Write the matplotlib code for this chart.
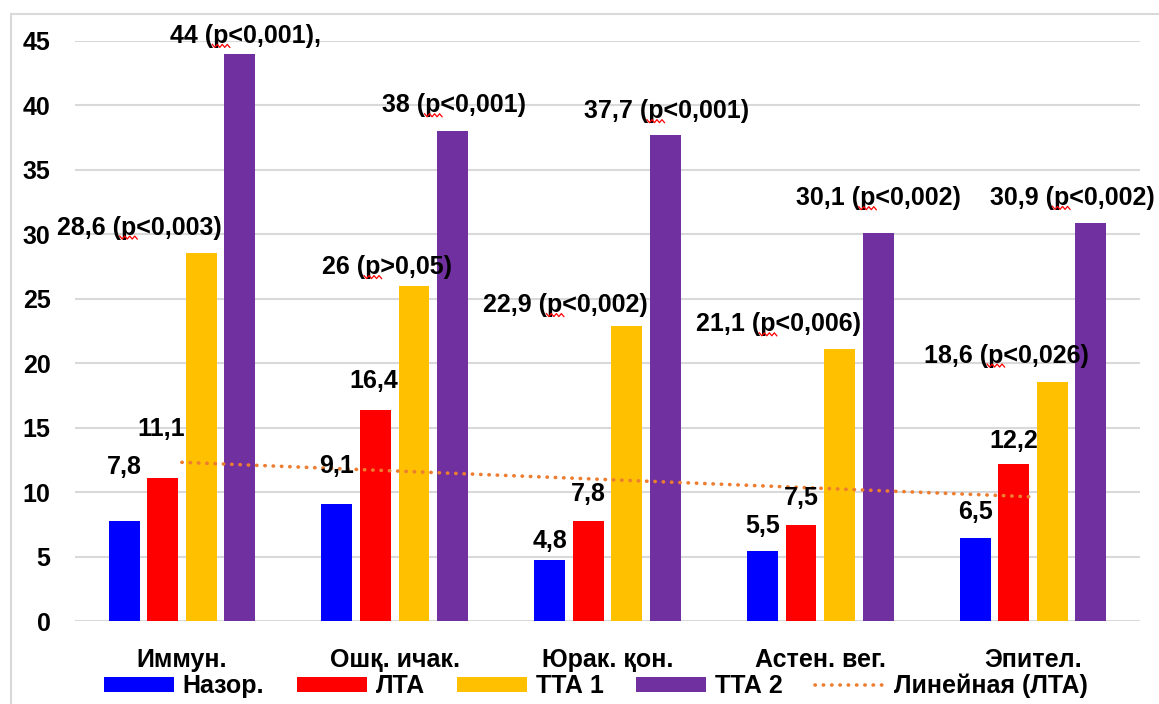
import numpy as np
import matplotlib
matplotlib.use("Agg")
import matplotlib.pyplot as plt
from matplotlib.patches import Rectangle
from matplotlib.lines import Line2D
from matplotlib.transforms import IdentityTransform

plt.rcParams['font.family'] = ['Liberation Sans', 'DejaVu Sans']
plt.rcParams['font.weight'] = 'bold'

# data
categories = ['Иммун.', 'Ошқ. ичак.', 'Юрак. қон.', 'Астен. вег.', 'Эпител.']
series = ['Назор.', 'ЛТА', 'ТТА 1', 'ТТА 2']
nazor = [7.8, 9.1, 4.8, 5.5, 6.5]
lta = [11.1, 16.4, 7.8, 7.5, 12.2]
tta1 = [28.6, 26, 22.9, 21.1, 18.6]
tta2 = [44, 38, 37.7, 30.1, 30.9]
tta1_p = ['(p<0,003)', '(p>0,05)', '(p<0,002)', '(p<0,006)', '(p<0,026)']
tta2_p = ['(p<0,001),', '(p<0,001)', '(p<0,001)', '(p<0,002)', '(p<0,002)']
trend_label = 'Линейная (ЛТА)'

colors = ['#0000FF', '#FF0000', '#FFC000', '#7030A0']
FS = 18

# label offsets in pixels (dx, dy above bar top)
offsets = [
    [(0, 54), (0, 38), (0, 19), (0, 25), (0, 26)],
    [(-1, 49), (-2, 29), (0, 27), (0, 27), (0, 23)],
    [(-62, 25), (-27, 19), (-61, 21), (-61, 25), (-46, 26)],
    [(6, 18), (2, 26), (1, 24), (0, 35), (-19, 25)],
]

fig = plt.figure(figsize=(11.59, 7.04), dpi=100)
ax = fig.add_axes([0.0651, 0.1172, 0.9181, 0.8246])

# chart area border
fig.patches.append(Rectangle((11 / 1159, -0.1), 1.2, 1.1 - 14 / 704,
                             transform=fig.transFigure, fill=False,
                             edgecolor='#D9D9D9', linewidth=1.5))

x = np.arange(len(categories))
step = 0.181
width = 0.145
data = [nazor, lta, tta1, tta2]
suffix = [None, None, tta1_p, tta2_p]

p_labels = []
for i, vals in enumerate(data):
    pos = x + (i - 1.5) * step
    ax.bar(pos, vals, width, color=colors[i], label=series[i], zorder=3)
    for j, v in enumerate(vals):
        txt = f"{v:g}".replace('.', ',')
        if suffix[i] is not None:
            txt += ' ' + suffix[i][j]
        dx, dy = offsets[i][j]
        t = ax.annotate(txt, (pos[j], v), xytext=(dx, dy),
                        textcoords='offset pixels', ha='center', va='center',
                        fontsize=FS, fontweight='bold', annotation_clip=False,
                        zorder=5)
        if '(p' in txt:
            p_labels.append(t)

# linear trend for ЛТА
k, b = np.polyfit(x, lta, 1)
ax.plot(x, k * x + b, color='#ED7D31', linewidth=2.6,
        linestyle=(0, (0.1, 2.2)), dash_capstyle='round', zorder=4,
        label=trend_label)

ax.set_xlim(-0.5, len(categories) - 0.5)
ax.set_ylim(0, 45)
ax.set_yticks(np.arange(0, 46, 5))
ax.yaxis.grid(True, color='#D9D9D9', linewidth=1.5, zorder=0)
ax.set_axisbelow(True)
for s in ax.spines.values():
    s.set_visible(False)
ax.tick_params(axis='both', length=0, labelsize=FS)
ax.tick_params(axis='y', pad=18)
ax.tick_params(axis='x', pad=19)
ax.set_xticks(x)
ax.set_xticklabels(categories)
for t in ax.get_xticklabels() + ax.get_yticklabels():
    t.set_fontweight('bold')

handles, labels = ax.get_legend_handles_labels()
order = [1, 2, 3, 4, 0]
ax.legend([handles[o] for o in order], [labels[o] for o in order],
          loc='center', bbox_to_anchor=(596 / 1159, 1 - 686 / 704),
          bbox_transform=fig.transFigure, ncol=5, frameon=False,
          fontsize=FS, handlelength=2.8, handleheight=0.5,
          handletextpad=0.35, columnspacing=1.3, borderpad=0)

# red spell-check squiggles under the "p"
fig.canvas.draw()
renderer = fig.canvas.get_renderer()
for t in p_labels:
    s = t.get_text()
    prefix = s[:s.index('(p') + 1]
    fp = t.get_fontproperties()
    w0 = renderer.get_text_width_height_descent(prefix, fp, ismath=False)[0]
    w1 = renderer.get_text_width_height_descent(prefix + 'p', fp, ismath=False)[0]
    bb = t.get_window_extent(renderer)
    xs = np.arange(bb.x0 + w0 - 1, bb.x0 + w1 + 2, 2.5)
    ys = bb.y0 + 2 + np.where(np.arange(len(xs)) % 2 == 0, 1.5, -1.5)
    fig.add_artist(Line2D(xs, ys, color='#FF0000', linewidth=0.9,
                          transform=IdentityTransform(), zorder=6))

fig.savefig('out.png', dpi=100)
